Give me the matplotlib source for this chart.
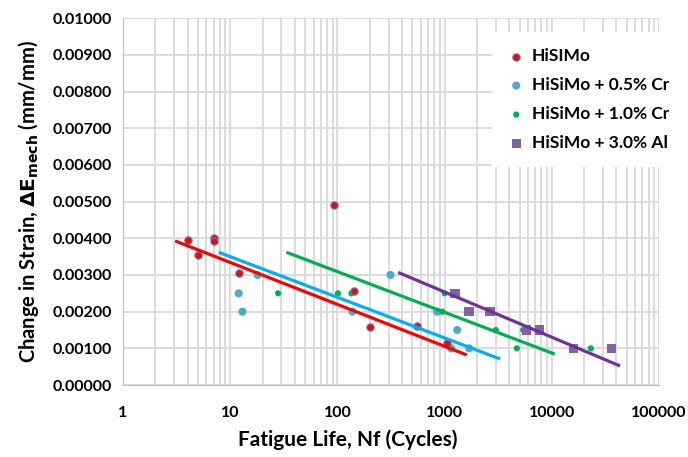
import numpy as np
import matplotlib.pyplot as plt

plt.rcParams['font.family'] = ['Lato', 'DejaVu Sans']

# fatigue life (cycles) and mechanical strain range (mm/mm) per alloy
n_base = [4, 5, 7, 7, 12, 92, 142, 202, 547, 1060]
e_base = [0.00395, 0.00355, 0.00400, 0.00393, 0.00305, 0.00490, 0.00256, 0.00157, 0.00160, 0.00114]

n_cr05 = [12, 13, 18, 138, 313, 852, 1150, 1310, 1690]
e_cr05 = [0.00250, 0.00200, 0.00300, 0.00200, 0.00300, 0.00200, 0.00100, 0.00150, 0.00100]

n_cr10 = [28, 101, 135, 950, 1000, 3000, 4710, 5400, 23100]
e_cr10 = [0.00250, 0.00250, 0.00250, 0.00200, 0.00250, 0.00150, 0.00100, 0.00150, 0.00100]

n_al30 = [1250, 1690, 2650, 5840, 7720, 15800, 36100]
e_al30 = [0.00250, 0.00200, 0.00200, 0.00150, 0.00150, 0.00100, 0.00100]

# logarithmic trend lines, start / end points
fit_base = ([3.06, 1607], [0.00393, 0.00082])
fit_cr05 = ([7.8, 3290], [0.00362, 0.00071])
fit_cr10 = ([33.4, 10670], [0.00362, 0.00084])
fit_al30 = ([369, 43200], [0.00307, 0.00052])

labels = ['HiSIMo', 'HiSiMo + 0.5% Cr', 'HiSiMo + 1.0% Cr', 'HiSiMo + 3.0% Al']

fig = plt.figure(figsize=(6.88, 4.57), dpi=100)
ax = fig.add_axes([0.1788, 0.1575, 0.7792, 0.8025])

ax.scatter(n_base, e_base, s=28, c='#ff0000', edgecolors='#4f81bd', linewidths=0.8, zorder=4, label=labels[0])
ax.scatter(n_cr05, e_cr05, s=34, c='#4bacc6', edgecolors='none', zorder=3, label=labels[1])
ax.scatter(n_cr10, e_cr10, s=20, c='#00b050', edgecolors='none', zorder=3, label=labels[2])
ax.scatter(n_al30, e_al30, s=45, c='#8064a2', marker='s', edgecolors='none', zorder=3, label=labels[3])

ax.plot(*fit_base, color='#ff0000', lw=2.3, zorder=5, solid_capstyle='butt')
ax.plot(*fit_cr05, color='#00b0f0', lw=2.3, zorder=5, solid_capstyle='butt')
ax.plot(*fit_cr10, color='#00b050', lw=2.3, zorder=5, solid_capstyle='butt')
ax.plot(*fit_al30, color='#7030a0', lw=2.3, zorder=5, solid_capstyle='butt')

ax.set_xscale('log')
ax.set_xlim(1, 100000)
ax.set_ylim(0, 0.01)
ax.set_yticks(np.arange(0, 0.01001, 0.001))
ax.yaxis.set_major_formatter(plt.FormatStrFormatter('%.5f'))
ax.set_xticks([1, 10, 100, 1000, 10000, 100000])
ax.set_xticklabels(['1', '10', '100', '1000', '10000', '100000'])

ax.grid(True, which='both', color='#d9d9d9', lw=1.3)
ax.set_axisbelow(True)
for s in ['top', 'right']:
    ax.spines[s].set_visible(False)
for s in ['left', 'bottom']:
    ax.spines[s].set_color('#bfbfbf')
ax.tick_params(axis='both', which='both', length=0, labelsize=11.5)
ax.tick_params(axis='x', pad=15)
ax.tick_params(axis='y', pad=8)
for t in ax.get_xticklabels() + ax.get_yticklabels():
    t.set_fontweight('bold')

ax.set_xlabel('Fatigue Life, Nf (Cycles)', fontsize=15, fontweight='bold')
ax.xaxis.set_label_coords(0.42, -0.122)
ax.set_ylabel(r'Change in Strain, $\mathbf{\Delta E_{mech}}$ (mm/mm)', fontsize=14.5,
              fontweight='bold', labelpad=8)

leg = ax.legend(loc='upper left', bbox_to_anchor=(0.672, 0.985), frameon=True, framealpha=1,
                edgecolor='none', fancybox=False, handletextpad=0.4, labelspacing=0.75,
                handlelength=1.0, borderpad=0.9, prop={'weight': 'bold', 'size': 12.5})

fig.savefig('out.png', dpi=100)
